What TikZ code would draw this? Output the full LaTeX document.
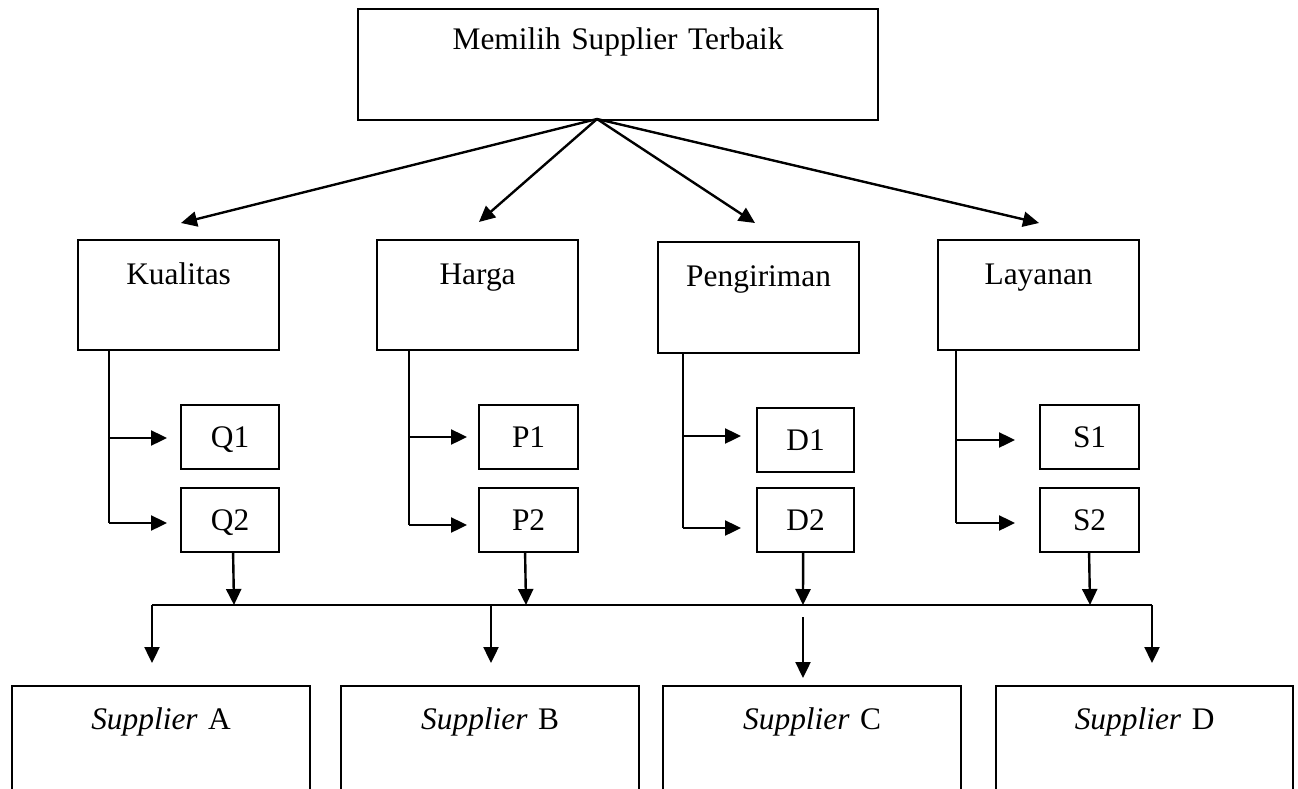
\documentclass[tikz,border=0pt]{standalone}
\usepackage{fontspec}
\setmainfont{Liberation Serif}
\usetikzlibrary{arrows.meta,calc}
\begin{document}
\begin{tikzpicture}[x=1pt,y=-1pt,font=\fontsize{31.4}{36}\selectfont]
\tikzset{
  box/.style={draw, line width=2.2pt, inner sep=0pt, anchor=north west, align=center},
  topbox/.style={box, text width=#1, text height=44pt, text depth=66pt},
  subbox/.style={box, minimum width=#1, minimum height=64pt, text height=21pt, text depth=0pt},
  supbox/.style={box, text width=#1, text height=43pt, text depth=72pt},
  arr/.style={line width=2.4pt, -{Triangle[length=16pt,width=15pt]}},
  ln/.style={line width=2.4pt},
}
\useasboundingbox (0,0) rectangle (1298,789);
\fill[white] (0,0) rectangle (1298,789);

% goal
\node[box, text width=520pt, text height=40pt, text depth=71pt] (goal) at (357,8) {Memilih Supplier Terbaik};

% criteria
\node[topbox=201pt] (K) at (77,239) {Kualitas};
\node[topbox=201pt] (H) at (376,239) {Harga};
\node[box, text width=201pt, text height=44pt, text depth=67pt] (P) at (657,241) {Pengiriman};
\node[topbox=201pt] (L) at (937,239) {Layanan};

% sub criteria
\node[subbox=98pt] (Q1) at (180,404) {Q1};
\node[subbox=98pt] (Q2) at (180,487) {Q2};
\node[subbox=99pt] (P1) at (478,404) {P1};
\node[subbox=99pt] (P2) at (478,487) {P2};
\node[subbox=97pt] (D1) at (756,407) {D1};
\node[subbox=97pt] (D2) at (756,487) {D2};
\node[subbox=99pt] (S1) at (1039,404) {S1};
\node[subbox=99pt] (S2) at (1039,487) {S2};

% suppliers
\node[supbox=298pt] (SA) at (11,685) {\textit{Supplier} A};
\node[supbox=298pt] (SB) at (340,685) {\textit{Supplier} B};
\node[supbox=298pt] (SC) at (662,685) {\textit{Supplier} C};
\node[supbox=297pt] (SD) at (995,685) {\textit{Supplier} D};

% goal to criteria
\coordinate (hub) at (597,119);
\coordinate (tK) at (181,223);
\coordinate (tH) at (479,222);
\coordinate (tP) at (755,223);
\coordinate (tL) at (1039,223);
\draw[arr] (hub) -- (tK);
\draw[arr] (hub) -- (tH);
\draw[arr] (hub) -- (tP);
\draw[arr] (hub) -- (tL);

% branches
\coordinate (K0) at (109,349); \coordinate (K1) at (109,438); \coordinate (K2) at (109,523);
\draw[ln] (K0) -- (K2);
\draw[arr, shorten >=13pt] (K1) -- (K1 -| Q1.west);
\draw[arr, shorten >=13pt] (K2) -- (K2 -| Q2.west);

\coordinate (H0) at (409,349); \coordinate (H1) at (409,437); \coordinate (H2) at (409,525);
\draw[ln] (H0) -- (H2);
\draw[arr, shorten >=11pt] (H1) -- (H1 -| P1.west);
\draw[arr, shorten >=11pt] (H2) -- (H2 -| P2.west);

\coordinate (P0) at (683,352); \coordinate (Pa) at (683,436); \coordinate (Pb) at (683,528);
\draw[ln] (P0) -- (Pb);
\draw[arr, shorten >=15pt] (Pa) -- (Pa -| D1.west);
\draw[arr, shorten >=15pt] (Pb) -- (Pb -| D2.west);

\coordinate (L0) at (956,349); \coordinate (L1) at (956,440); \coordinate (L2) at (956,523);
\draw[ln] (L0) -- (L2);
\draw[arr, shorten >=24pt] (L1) -- (L1 -| S1.west);
\draw[arr, shorten >=24pt] (L2) -- (L2 -| S2.west);

% collector line
\coordinate (bl) at (152,605);
\coordinate (br) at (1152,605);
\coordinate (m1) at (234,605);
\coordinate (m2) at (526,605);
\coordinate (m3) at (803,605);
\coordinate (m4) at (1090,605);
\coordinate (bB) at (491,605);
\coordinate (bC) at (803,617);
\draw[ln] (bl) -- (br);
\draw[arr] ([xshift=3pt]Q2.south) -- (m1);
\draw[arr] ([xshift=-3.5pt]P2.south) -- (m2);
\draw[arr] ([xshift=-2.5pt]D2.south) -- (m3);
\draw[arr] ([xshift=-0.5pt]S2.south) -- (m4);

% to suppliers
\draw[arr, shorten >=22pt] (bl) -- (bl |- SA.north);
\draw[arr, shorten >=22pt] (bB) -- (bB |- SB.north);
\draw[arr, shorten >=7pt] (bC) -- (bC |- SC.north);
\draw[arr, shorten >=22pt] (br) -- (br |- SD.north);
\end{tikzpicture}
\end{document}
